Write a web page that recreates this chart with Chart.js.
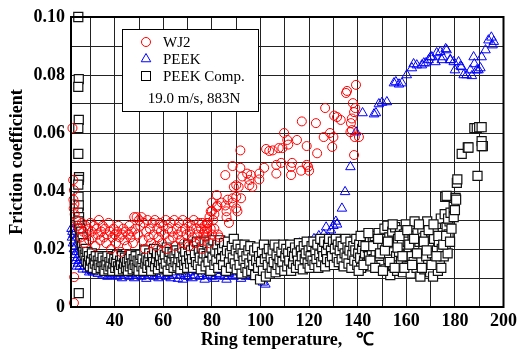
<!DOCTYPE html>
<html><head><meta charset="utf-8">
<script src="https://cdn.jsdelivr.net/npm/chart.js@4.4.1/dist/chart.umd.min.js"></script>
<style>html,body{margin:0;padding:0;background:#fff}#wrap{width:521px;height:351px}</style>
</head><body><div id="wrap"><canvas id="c" width="521" height="351"></canvas></div>
<script>
// ---- data (temperature °C, friction coefficient) ----
const seriesNames = ["WJ2", "PEEK", "PEEK Comp."];
const conditionText = "19.0 m/s, 883N";
const xTickValues = [30,40,50,60,70,80,90,100,110,120,130,140,150,160,170,180,190,200];
const yTickValues = [0,0.01,0.02,0.03,0.04,0.05,0.06,0.07,0.08,0.09,0.10];

const wj2Pts = [
[22.6,0.0617],[22.9,0.0438],[23.2,0.0403],[23.0,0.0370],[23.4,0.0355],[23.1,0.0340],[23.5,0.0320],[23.3,0.0103],[23.2,0.0014],[24.2,0.0300],[24.8,0.0280],
[25.5,0.027],[26,0.024],[26.5,0.029],[27,0.026],[27.5,0.022],[28,0.028],[28.5,0.025],[29,0.027],[29.5,0.023],[30,0.029],[30.5,0.026],[31,0.024],[31.5,0.028],[32,0.021],[32.5,0.027],[33,0.025],[33.5,0.030],[34,0.023],[34.5,0.026],[35,0.028],[35.5,0.024],[36,0.027],[36.5,0.022],[37,0.025],[37.5,0.029],[38,0.026],[38.5,0.020],[39,0.024],[39.5,0.027],[40,0.025],[40.5,0.022],[41,0.026],[41.5,0.028],[42,0.024],[42.5,0.019],[43,0.025],[43.5,0.027],[44,0.023],[44.5,0.026],[45,0.021],[45.5,0.025],[46,0.028],[46.5,0.024],[47,0.026],[47.5,0.022],[48,0.031],[48.5,0.027],[49,0.031],[49.5,0.025],[50,0.030],
[50.5,0.028],[51,0.031],[51.5,0.023],[52,0.029],[52.5,0.020],[53,0.026],[53.5,0.030],[54,0.024],[54.5,0.027],[55,0.022],[55.5,0.029],[56,0.025],[56.5,0.030],[57,0.021],[57.5,0.027],[58,0.024],[58.5,0.029],[59,0.026],[59.5,0.022],[60,0.028],[60.5,0.025],[61,0.030],[61.5,0.020],[62,0.027],[62.5,0.023],[63,0.029],[63.5,0.026],[64,0.024],[64.5,0.030],[65,0.021],[65.5,0.027],[66,0.025],[66.5,0.029],[67,0.023],[67.5,0.026],[68,0.030],[68.5,0.022],[69,0.027],[69.5,0.025],[70,0.029],[70.5,0.021],[71,0.026],[71.5,0.028],[72,0.024],[72.5,0.030],[73,0.022],[73.5,0.027],[74,0.025],[74.5,0.029],[75,0.023],[75.5,0.027],[76,0.020],[76.5,0.025],[77,0.028],[77.5,0.024],[78,0.026],[78.5,0.029],[79,0.022],[79.5,0.027],[80,0.025],
[76,0.029],[79,0.031],[81,0.032],[82,0.0345],[80,0.036],[82,0.0386],[78,0.029],[80,0.033],[82.3,0.035],[86,0.033],[86.5,0.037],[88.5,0.0375],[90,0.038],[90.5,0.033],[92,0.0375],[89,0.0414],[91,0.0414],[92.5,0.045],[94.5,0.046],[95.4,0.0438],[96.6,0.0414],[88.5,0.0486],[85.5,0.0455],[91.7,0.048],[91.7,0.054],[99.5,0.046],[101.5,0.048],[102.3,0.0545],[103.6,0.0538],[106.5,0.049],[106.5,0.046],[108.5,0.0497],[109,0.0548],[109.7,0.060],[111,0.0576],[111.4,0.056],[112.6,0.0483],[112.6,0.0455],[113,0.0497],[115,0.0576],[116.7,0.047],[117,0.064],[119,0.0555],[119,0.049],[120,0.047],[122.8,0.0634],[123.3,0.053],[126,0.0586],[126.6,0.0686],[128.6,0.060],[129.5,0.0552],[130,0.0586],[130.3,0.066],[131.5,0.0655],[133,0.0645],[135.6,0.0745],[135.2,0.0738],[138,0.0703],[138.5,0.0672],[137.6,0.065],[137.2,0.0634],[137.6,0.061],[139.3,0.0766],[138.5,0.0524],[138.8,0.0586],[140.5,0.0586],[139,0.0686],[137,0.0603],[105,0.054],[107.5,0.0548],[119.6,0.0483],[96,0.0455],
[78,0.027],[79.5,0.033],[80.5,0.030],[81,0.027],[82.5,0.025],[84,0.036],[85.5,0.035],[86,0.031],[87,0.029],[90,0.042],[95.4,0.042],[99.5,0.044],[83,0.024],[88.5,0.036],[90,0.034],[77,0.026]
];

const peekPts = [
[22.2,0.027],[22.4,0.024],[22.6,0.026],[22.8,0.022],[23.0,0.025],[23.2,0.020],[23.4,0.023],[23.6,0.018],[23.8,0.021],[24.0,0.016],[24.2,0.019],[24.4,0.014],[24.6,0.017],[24.8,0.015],[25.0,0.019],[25.3,0.016],[25.6,0.014],[26.0,0.017],[26.4,0.015],[26.8,0.013],[27.2,0.016],[27.6,0.014],[28.0,0.015],[28.5,0.013],[29,0.014],[29.5,0.012],[30,0.013],[30.5,0.0125],[31,0.012],[32,0.0135],[33,0.0115],[34,0.0125],[35,0.011],[36,0.012],[37,0.0105],[38,0.0115],[39,0.011],[40,0.0125],[41,0.0105],[42,0.0115],[43,0.010],[44,0.011],[45,0.012],[46,0.0105],[47,0.0115],[48,0.010],[49,0.011],[50,0.012],[51,0.0105],[52,0.0115],[53,0.0098],[54,0.011],[55,0.012],[56,0.0105],[57,0.0115],[58,0.010],[59,0.011],[60,0.0125],[61,0.0105],[62,0.0115],[63,0.010],[64,0.011],[65,0.012],[66,0.0098],[67,0.011],[68,0.0095],[69,0.0115],[70,0.0105],[71,0.012],[72,0.010],[73,0.011],[74,0.0125],[75,0.0105],[76,0.0115],[77,0.0095],[78,0.011],[79,0.012],[80,0.0105],[81,0.0098],[82,0.0115],[83,0.011],[84,0.0125],[85,0.0105],[86,0.0095],[87,0.0115],[88,0.012],[89,0.0105],[90,0.011],[91,0.0125],[92,0.0098],[93,0.0115],[94,0.0105],[95,0.012],[96,0.011],[97,0.0105],[98,0.013],[99,0.0115],[100,0.0125],[101,0.0085],[102,0.0078],[103,0.0135],[104,0.014],[105,0.0115],[106,0.015],[107,0.0165],[108,0.019],[109,0.0155],[110,0.017],[111,0.0135],[112,0.018],[113,0.0195],[114,0.016],[115,0.0205],[116,0.022],[117,0.0175],[118,0.021],[119,0.0195],[120,0.0225],[121,0.020],[122,0.0235],[123,0.021],[124,0.0245],[125,0.0225],[126,0.025],[127,0.0275],[128,0.024],[129,0.0265],[130,0.028],[131,0.0295],[131.5,0.0285],
[104.5,0.012],[108.5,0.0125],[112.5,0.013],[116.5,0.0145],[120.5,0.016],[124.5,0.018],[127.5,0.021],[129.5,0.023],
[133.5,0.034],[134.8,0.0397],[137,0.0483],[139.3,0.0603],[142,0.0669],[146.7,0.0665],[147.5,0.0669],[148.7,0.070],[150,0.0705],[152,0.0707],[154.9,0.0772],[155.7,0.0776],[157,0.0768],[158.2,0.0772],[160.2,0.080],[162.3,0.0824],[163,0.0838],[164.3,0.0834],[166.4,0.0834],[167.2,0.0841],[168,0.0841],[169.2,0.0852],[170,0.0862],[170.5,0.0862],[172,0.0845],[172.5,0.0876],[174,0.088],[174.6,0.0852],[175,0.0862],[176.2,0.089],[176.6,0.0886],[178,0.0852],[178.2,0.0852],[179.5,0.0845],[180,0.0817],[181.5,0.0845],[182.3,0.083],[182.7,0.0828],[183.6,0.080],[184.8,0.080],[186.4,0.0817],[187,0.0797],[187.7,0.0862],[188,0.0838],[189,0.0817],[189.7,0.0817],[190.5,0.0824],[191,0.0862],[192.6,0.0886],[193.8,0.092],[195,0.093],[195.5,0.0903],[196,0.0915]
];

const compPts = [
[25,0.100],[25.2,0.0786],[25,0.0759],[25.2,0.0645],[25,0.0617],[25,0.0528],[25.3,0.0448],[25.2,0.0438],[25,0.0422],[25.1,0.038],[25.2,0.035],[25,0.0325],[25.3,0.031],[25.1,0.0295],[25.4,0.028],[25.2,0.0048],
[25.6,0.027],[25.8,0.025],[26,0.023],[26.2,0.026],[26.5,0.021],[26.8,0.024],[27,0.019],[27.3,0.022],[27.6,0.018],[28,0.020],[28.3,0.016],[28.7,0.019],
[29,0.015],[29.4,0.0175],[29.8,0.014],[30.2,0.016],[30.6,0.0185],[31,0.0135],[31.4,0.0165],[31.8,0.015],[32.2,0.0175],[32.6,0.013],[33,0.016],[33.4,0.0145],[33.8,0.0175],[34.2,0.0135],[34.6,0.0155],[35,0.017],
[35.4,0.014],[35.8,0.0125],[36.2,0.016],[36.6,0.0145],[37,0.0175],[37.4,0.013],[37.8,0.0155],[38.2,0.014],[38.6,0.017],[39,0.0125],[39.4,0.015],[39.8,0.0165],[40.2,0.0135],[40.6,0.0155],[41,0.018],[41.4,0.014],[41.8,0.0125],[42.2,0.016],[42.6,0.0145],[43,0.0175],[43.4,0.013],[43.8,0.015],[44.2,0.017],[44.6,0.0135],[45,0.0155],[45.4,0.0125],[45.8,0.0165],[46.2,0.014],[46.6,0.018],[47,0.015],[47.4,0.013],[47.8,0.0165],[48.2,0.0145],[48.6,0.0175],[49,0.0135],[49.4,0.016],[49.8,0.0125],
[50.2,0.0155],[50.6,0.018],[51,0.014],[51.4,0.0165],[51.8,0.0125],[52.2,0.0195],[52.6,0.015],[53,0.017],[53.4,0.0135],[53.8,0.016],[54.2,0.0185],[54.6,0.0145],[55,0.0125],[55.4,0.0175],[55.8,0.0155],[56.2,0.020],[56.6,0.014],[57,0.0165],[57.4,0.0185],[57.8,0.013],[58.2,0.0155],[58.6,0.0175],[59,0.0145],[59.4,0.0195],[59.8,0.016],[60.2,0.0135],[60.6,0.018],[61,0.015],[61.4,0.0205],[61.8,0.0125],[62.2,0.017],[62.6,0.019],[63,0.0145],[63.4,0.016],[63.8,0.0185],[64.2,0.0135],[64.6,0.0175],[65,0.0155],[65.4,0.0195],[65.8,0.014],[66.2,0.0165],[66.6,0.0185],[67,0.013],[67.4,0.0155],[67.8,0.0205],[68.2,0.017],[68.6,0.0145],[69,0.019],[69.4,0.016],[69.8,0.0135],
[70.2,0.0215],[70.6,0.0175],[71,0.015],[71.4,0.0195],[71.8,0.0165],[72.2,0.0135],[72.6,0.021],[73,0.018],[73.4,0.0155],[73.8,0.0225],[74.2,0.0145],[74.6,0.0195],[75,0.017],[75.4,0.013],[75.8,0.0205],[76.2,0.016],[76.6,0.0185],[77,0.0225],[77.4,0.014],[77.8,0.0175],[78.2,0.0215],[78.6,0.0155],[79,0.019],[79.4,0.0125],[79.8,0.0205],[80.2,0.017],[80.6,0.023],[81,0.0145],[81.4,0.0195],[81.8,0.016],[82.2,0.0215],[82.6,0.0135],[83,0.0185],[83.4,0.023],[83.8,0.0165],[84.2,0.020],[84.6,0.0145],[85,0.022],[85.4,0.0175],[85.8,0.0125],[86.2,0.0195],[86.6,0.0225],[87,0.0155],[87.4,0.0185],[87.8,0.0135],[88.2,0.021],[88.6,0.017],[89,0.0235],[89.4,0.015],[89.8,0.0195],
[90.2,0.013],[90.6,0.0215],[91,0.0175],[91.4,0.0145],[91.8,0.020],[92.2,0.0115],[92.6,0.0185],[93,0.016],[93.4,0.0215],[93.8,0.0135],[94.2,0.0175],[94.6,0.012],[95,0.0195],[95.4,0.015],[95.8,0.021],[96.2,0.0125],[96.6,0.017],[97,0.0145],[97.4,0.0195],[97.8,0.011],[98.2,0.016],[98.6,0.0205],[99,0.0135],[99.4,0.0175],[99.8,0.0095],[100.2,0.0155],[100.6,0.019],[101,0.0125],[101.4,0.0215],[101.8,0.0165],[102.2,0.0105],[102.6,0.0185],[103,0.0145],[103.4,0.020],[103.8,0.0115],[104.2,0.017],[104.6,0.0135],[105,0.0195],[105.4,0.0155],[105.8,0.0215],[106.2,0.012],[106.6,0.018],[107,0.0145],[107.4,0.0205],[107.8,0.0165],[108.2,0.013],[108.6,0.019],[109,0.0155],[109.4,0.0215],[109.8,0.0125],[110.2,0.0175],[110.6,0.020],[111,0.014],[111.4,0.0185],[111.8,0.016],[112.2,0.0215],[112.6,0.0125],[113,0.019],[113.4,0.015],[113.8,0.0175],[114.2,0.0205],[114.6,0.0135],
[115,0.0185],[115.4,0.016],[115.8,0.022],[116.2,0.0145],[116.6,0.0195],[117,0.0175],[117.4,0.013],[117.8,0.021],[118.2,0.0165],[118.6,0.0185],[119,0.0225],[119.4,0.015],[119.8,0.0195],[120.2,0.0135],[120.6,0.0175],[121,0.021],[121.4,0.016],[121.8,0.0225],[122.2,0.0145],[122.6,0.019],[123,0.0165],[123.4,0.0215],[123.8,0.0135],[124.2,0.018],[124.6,0.0235],[125,0.0155],[125.4,0.020],[125.8,0.0175],[126.2,0.0225],[126.6,0.014],[127,0.019],[127.4,0.0165],[127.8,0.0215],[128.2,0.0235],[128.6,0.0155],[129,0.0195],[129.4,0.0175],[129.8,0.0225],[130.2,0.0145],[130.6,0.020],[131,0.0235],[131.4,0.017],[131.8,0.0215],[132.2,0.0155],[132.6,0.0195],[133,0.0225],[133.4,0.0165],[133.8,0.021],[134.2,0.014],[134.6,0.0185],
[135,0.0235],[135.4,0.017],[135.8,0.0205],[136.2,0.015],[136.6,0.0195],[137,0.0225],[137.4,0.0135],[137.8,0.018],[138.2,0.021],[138.6,0.016],[139,0.0195],[139.4,0.0235],[139.8,0.0145],[140.2,0.0185],[140.6,0.0215],[141,0.017],[141.4,0.0135],[141.8,0.020],[142.2,0.0225],[142.6,0.016],[143,0.0185],[143.4,0.0245],[143.8,0.015],[144.2,0.0205],[144.6,0.0175],[145,0.0235],[145.4,0.014],[145.8,0.0195],[146.2,0.0225],[146.6,0.0165],[147,0.0245],[147.4,0.019],[147.8,0.015],[148.2,0.0215],[148.6,0.0255],[149,0.0175],[149.4,0.0205],[149.8,0.0145],
[150.2,0.0235],[150.6,0.0185],[151,0.027],[151.4,0.013],[151.8,0.0215],[152.2,0.028],[152.6,0.0165],[153,0.024],[153.4,0.011],[153.8,0.0195],[154.2,0.026],[154.6,0.0145],[155,0.022],[155.4,0.0275],[155.8,0.0175],[156.2,0.0125],[156.6,0.0235],[157,0.019],[157.4,0.0265],[157.8,0.0155],[158.2,0.0215],[158.6,0.012],[159,0.025],[159.4,0.018],[159.8,0.0285],[160.2,0.014],[160.6,0.0225],[161,0.0195],[161.4,0.0265],[161.8,0.0115],[162.2,0.0175],[162.6,0.0245],[163,0.0155],[163.4,0.0295],[163.8,0.021],[164.2,0.0135],[164.6,0.0255],[165,0.0185],[165.4,0.0225],[165.8,0.0105],[166.2,0.016],[166.6,0.027],[167,0.020],[167.4,0.013],[167.8,0.0245],[168.2,0.0175],[168.6,0.0295],[169,0.0145],[169.4,0.0215],[169.8,0.012],[170.2,0.026],[170.6,0.0185],[171,0.0105],[171.4,0.0235],[171.8,0.0155],[172.2,0.0275],[172.6,0.0195],[173,0.0125],[173.4,0.0225],[173.8,0.0165],[174.2,0.0305],[174.6,0.020],[175,0.0255],[175.4,0.0175],[175.8,0.032],[176.2,0.0215],[176.6,0.0275],[177,0.0185],[177.4,0.025],[177.8,0.0295],
[140.4,0.0125],[141.2,0.0245],[142.4,0.0145],[143.2,0.021],[144.4,0.0255],[145.2,0.016],[146.4,0.021],[147.2,0.0135],[148.4,0.0235],[149.2,0.0185],[150.4,0.0125],[151.2,0.0195],[152.4,0.0225],[153.2,0.0155],[154.4,0.0285],[155.2,0.0135],[156.4,0.0205],[157.2,0.0245],[158.4,0.0175],[159.2,0.0135],[160.4,0.0265],[161.2,0.0215],[162.4,0.0145],[163.2,0.0235],[164.4,0.0185],[165.2,0.0285],[166.4,0.0135],[167.2,0.0225],[168.4,0.0195],[169.2,0.0265],[170.4,0.0145],[171.2,0.0285],[172.4,0.0175],[173.2,0.0245],[174.4,0.0135],[175.2,0.0215],[176.4,0.0245],[177.2,0.0305],[178,0.0225],[178.6,0.027],
[176,0.038],[176.6,0.0383],[178.2,0.0325],[179.5,0.0345],[179.5,0.031],[180,0.0334],[180.3,0.0376],[180.5,0.037],[180.8,0.0428],[181,0.044],[182.8,0.0528],[185.3,0.055],[185.6,0.055],[188,0.0617],[189,0.0617],[189.3,0.0452],[190,0.062],[191,0.062],[191,0.0572],[191.5,0.0555],[191,0.0555]
];

const toXY = pts => pts.map(p => ({x: p[0], y: p[1]}));
const serif = "'Liberation Serif','Times New Roman',serif";

const legendPlugin = {
  id: 'boxLegend',
  afterDatasetsDraw(chart) {
    const ctx = chart.ctx;
    const a = chart.chartArea;
    ctx.save();
    ctx.strokeStyle = '#000'; ctx.lineWidth = 2;
    ctx.strokeRect(a.left, a.top, a.right - a.left, a.bottom - a.top);
    const bx = 122, by = 29, bw = 136, bh = 82;
    ctx.fillStyle = '#fff'; ctx.fillRect(bx, by, bw, bh);
    ctx.lineWidth = 1; ctx.strokeStyle = '#000';
    ctx.strokeRect(bx + 0.5, by + 0.5, bw, bh);
    const mx = 146, rows = [42, 59, 76];
    ctx.strokeStyle = '#ff0000'; ctx.beginPath(); ctx.arc(mx, rows[0], 4.5, 0, Math.PI * 2); ctx.stroke();
    ctx.strokeStyle = '#0000ff'; ctx.beginPath();
    const r = 5.5;
    ctx.moveTo(mx, rows[1] - r);
    ctx.lineTo(mx + r * 0.866, rows[1] + r * 0.5);
    ctx.lineTo(mx - r * 0.866, rows[1] + r * 0.5);
    ctx.closePath(); ctx.stroke();
    ctx.strokeStyle = '#000'; ctx.fillStyle = '#fff';
    ctx.fillRect(mx - 4.5, rows[2] - 4.5, 9, 9); ctx.strokeRect(mx - 4.5, rows[2] - 4.5, 9, 9);
    ctx.fillStyle = '#000'; ctx.font = "15px " + serif; ctx.textBaseline = 'middle'; ctx.textAlign = 'left';
    seriesNames.forEach((n, i) => ctx.fillText(n, 163, rows[i] + 1));
    ctx.textAlign = 'center';
    ctx.fillText(conditionText, 194, 99);
    ctx.restore();
  }
};

new Chart(document.getElementById('c'), {
  type: 'scatter',
  data: {
    datasets: [
      {label: seriesNames[0], data: toXY(wj2Pts), pointStyle: 'circle', pointRadius: 4.5, borderColor: '#ff0000', backgroundColor: 'rgba(0,0,0,0)', borderWidth: 1, order: 0, clip: false},
      {label: seriesNames[2], data: toXY(compPts), pointStyle: 'rect', pointRadius: 6.4, borderColor: '#111', backgroundColor: '#fff', borderWidth: 1.2, order: 1, clip: false},
      {label: seriesNames[1], data: toXY(peekPts), pointStyle: 'triangle', pointRadius: 5.5, borderColor: '#0000ff', backgroundColor: 'rgba(0,0,0,0)', borderWidth: 1, order: 2, clip: false}
    ]
  },
  options: {
    responsive: false, animation: false, devicePixelRatio: 1,
    layout: {padding: {left: 0, top: 17, right: 15, bottom: 0}},
    plugins: {legend: {display: false}, tooltip: {enabled: false}},
    elements: {point: {hoverRadius: 0}},
    scales: {
      x: {
        type: 'linear', min: 22, max: 200,
        afterFit: s => { s.height = 44; },
        afterBuildTicks: s => { s.ticks = xTickValues.map(v => ({value: v})); },
        grid: {color: '#222', lineWidth: 1, drawTicks: false},
        border: {display: true, color: '#000', width: 2},
        ticks: {padding: 4, color: '#000', font: {family: serif, size: 18, weight: 'bold'},
          autoSkip: false, maxRotation: 0,
          callback: v => (v % 20 === 0 && v >= 40) ? String(v) : ''},
        title: {display: true, text: 'Ring temperature,   ℃', color: '#000', padding: {top: 0, bottom: 0},
          font: {family: serif, size: 18, weight: 'bold'}}
      },
      y: {
        type: 'linear', min: 0, max: 0.1,
        afterFit: s => { s.width = 71; },
        afterBuildTicks: s => { s.ticks = yTickValues.map(v => ({value: v})); },
        grid: {color: '#222', lineWidth: 1, drawTicks: false},
        border: {display: true, color: '#000', width: 2},
        ticks: {padding: 6, color: '#000', font: {family: serif, size: 18, weight: 'bold'},
          autoSkip: false,
          callback: v => {
            const k = Math.round(v * 100);
            if (k % 2 !== 0) return '';
            return k === 0 ? '0' : (k / 100).toFixed(2);
          }},
        title: {display: true, text: 'Friction coefficient', color: '#000', padding: {top: 7, bottom: 0},
          font: {family: serif, size: 18, weight: 'bold'}}
      }
    }
  },
  plugins: [legendPlugin]
});
</script></body></html>
